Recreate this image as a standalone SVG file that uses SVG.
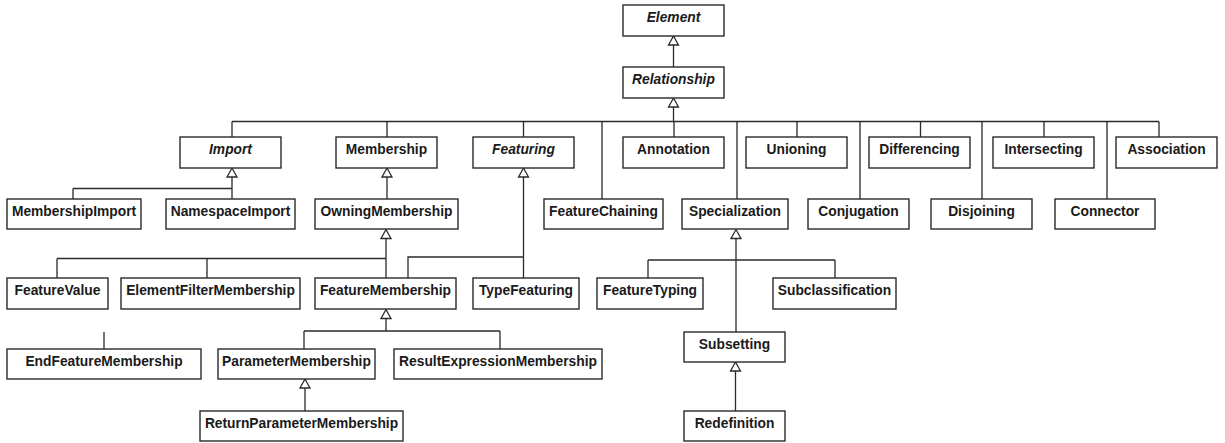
<svg xmlns="http://www.w3.org/2000/svg" width="1225" height="443" viewBox="0 0 1225 443">
<defs>
<style>
.n rect{fill:#fff;stroke:#2a2a2a;stroke-width:1.4}
.n text{font-family:"Liberation Sans",Arial,sans-serif;font-weight:bold;font-size:13.8px;fill:#1a1a1a;text-anchor:middle}
.n text.a{font-style:italic}
.c path{fill:none;stroke:#2a2a2a;stroke-width:1.3}
.c path.t{fill:#fff}
</style>
</defs>
<rect width="1225" height="443" fill="#fff"/>
<g class="c" id="connectors">
<path d="M673.5 45V67"/>
<path class="t" d="M673.5 36L668.5 45H678.5Z"/>
<path d="M673.5 107V121.5M232 121.5H1159M232 121.5V137M387 121.5V137M523.5 121.5V137M674 121.5V137M797 121.5V137M920.5 121.5V137M1044 121.5V137M1159 121.5V137M602 121.5V199M737 121.5V199M860 121.5V199M982 121.5V199M1107 121.5V199"/>
<path class="t" d="M673.5 98L668.5 107H678.5Z"/>
<path d="M232 177V199M73 188.5H232M73 188.5V199"/>
<path class="t" d="M232 168L227 177H237Z"/>
<path d="M387 177V199"/>
<path class="t" d="M387 168L382 177H392Z"/>
<path d="M386 239V278M57 258.5H386M57 258.5V278M207 258.5V278"/>
<path class="t" d="M386 229.5L381 238.5H391Z"/>
<path d="M523.5 177V278M523.5 257H408V278"/>
<path class="t" d="M523.5 168L518.5 177H528.5Z"/>
<path d="M386 318.5V331M304 331H500M304 331V349M500 331V349"/>
<path class="t" d="M386 309.5L381 318.5H391Z"/>
<path d="M104 332V349"/>
<path d="M305 388V411"/>
<path class="t" d="M305 379L300 388H310Z"/>
<path d="M736 239V332M648 260H835M648 260V278M835 260V278"/>
<path class="t" d="M736 229.5L731 238.5H741Z"/>
<path d="M735.5 371V411"/>
<path class="t" d="M735.5 362L730.5 371H740.5Z"/>
</g>
<g class="n" id="Element"><rect x="623" y="5" width="101" height="31"/><text class="a" x="673.5" y="22">Element</text></g>
<g class="n" id="Relationship"><rect x="623" y="67" width="101" height="31"/><text class="a" x="673.5" y="84">Relationship</text></g>
<g class="n" id="Import"><rect x="180" y="137" width="101" height="31"/><text class="a" x="230.5" y="154">Import</text></g>
<g class="n" id="Membership"><rect x="336" y="137" width="101" height="31"/><text x="386.5" y="154">Membership</text></g>
<g class="n" id="Featuring"><rect x="473" y="137" width="101" height="31"/><text class="a" x="523.5" y="154">Featuring</text></g>
<g class="n" id="Annotation"><rect x="623" y="137" width="101" height="31"/><text x="673.5" y="154">Annotation</text></g>
<g class="n" id="Unioning"><rect x="746" y="137" width="101" height="31"/><text x="796.5" y="154">Unioning</text></g>
<g class="n" id="Differencing"><rect x="869" y="137" width="101" height="31"/><text x="919.5" y="154">Differencing</text></g>
<g class="n" id="Intersecting"><rect x="993" y="137" width="101" height="31"/><text x="1043.5" y="154">Intersecting</text></g>
<g class="n" id="Association"><rect x="1116" y="137" width="101" height="31"/><text x="1166.5" y="154">Association</text></g>
<g class="n" id="MembershipImport"><rect x="7" y="199" width="134" height="30"/><text x="74" y="216">MembershipImport</text></g>
<g class="n" id="NamespaceImport"><rect x="166" y="199" width="129" height="30"/><text x="230.5" y="216">NamespaceImport</text></g>
<g class="n" id="OwningMembership"><rect x="315" y="199" width="143" height="30"/><text x="386.5" y="216">OwningMembership</text></g>
<g class="n" id="FeatureChaining"><rect x="544" y="199" width="119" height="30"/><text x="603.5" y="216">FeatureChaining</text></g>
<g class="n" id="Specialization"><rect x="682" y="199" width="106" height="30"/><text x="735" y="216">Specialization</text></g>
<g class="n" id="Conjugation"><rect x="808" y="199" width="101" height="30"/><text x="858.5" y="216">Conjugation</text></g>
<g class="n" id="Disjoining"><rect x="931" y="199" width="101" height="30"/><text x="981.5" y="216">Disjoining</text></g>
<g class="n" id="Connector"><rect x="1055" y="199" width="100" height="30"/><text x="1105" y="216">Connector</text></g>
<g class="n" id="FeatureValue"><rect x="7" y="278" width="101" height="31"/><text x="57.5" y="295">FeatureValue</text></g>
<g class="n" id="ElementFilterMembership"><rect x="121" y="278" width="179" height="31"/><text x="210.5" y="295">ElementFilterMembership</text></g>
<g class="n" id="FeatureMembership"><rect x="315" y="278" width="141" height="31"/><text x="385.5" y="295">FeatureMembership</text></g>
<g class="n" id="TypeFeaturing"><rect x="473" y="278" width="106" height="31"/><text x="526" y="295">TypeFeaturing</text></g>
<g class="n" id="FeatureTyping"><rect x="597" y="278" width="106" height="31"/><text x="650" y="295">FeatureTyping</text></g>
<g class="n" id="Subclassification"><rect x="773" y="278" width="123" height="31"/><text x="834.5" y="295">Subclassification</text></g>
<g class="n" id="EndFeatureMembership"><rect x="7" y="349" width="194" height="30"/><text x="104" y="366">EndFeatureMembership</text></g>
<g class="n" id="ParameterMembership"><rect x="218" y="349" width="157" height="30"/><text x="296.5" y="366">ParameterMembership</text></g>
<g class="n" id="ResultExpressionMembership"><rect x="394" y="349" width="208" height="30"/><text x="498" y="366">ResultExpressionMembership</text></g>
<g class="n" id="Subsetting"><rect x="684" y="332" width="101" height="30"/><text x="734.5" y="349">Subsetting</text></g>
<g class="n" id="ReturnParameterMembership"><rect x="200" y="411" width="203" height="30"/><text x="301.5" y="428">ReturnParameterMembership</text></g>
<g class="n" id="Redefinition"><rect x="684" y="411" width="101" height="30"/><text x="734.5" y="428">Redefinition</text></g>
</svg>
